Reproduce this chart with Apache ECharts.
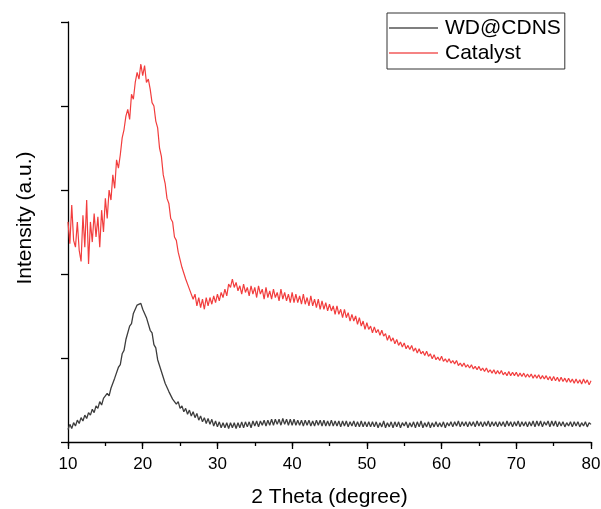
<!DOCTYPE html>
<html>
<head>
<meta charset="utf-8">
<script src="https://cdn.jsdelivr.net/npm/echarts@6/dist/echarts.min.js"></script>
<style>
html,body{margin:0;padding:0;background:#fff;}
#chart{width:601px;height:509px;}
</style>
</head>
<body>
<div id="chart"></div>
<script>
// Scan grid (2θ, degree)
const thetaStart = 10;
const thetaStep = 0.25;
const xTicks = [10, 20, 30, 40, 50, 60, 70, 80];
const seriesNames = ['WD@CDNS', 'Catalyst'];

// WD@CDNS intensity (a.u.), one value per 0.25° from 10° to 80°
const wdcdns = [
 15,21,16,23, 19,26,22,29, 25,32,28,35, 32,39,35,43, 40,48,44,52,
 50,58,55,64, 64,76,77,89, 92,105,109,122, 124,138,141,153, 154,163,164,165,
 158,159,148,146, 133,130,116,112, 98,96,84,82, 70,70,60,60, 51,53,45,48,
 40,43,36,40, 33,38,31,36, 29,34,26,31, 24,29,22,28, 21,27,19,25,
 18,24,17,23, 17,23,16,23, 17,23,16,23, 17,24,17,24, 18,24,17,25,
 19,25,18,25, 20,26,19,26, 20,27,20,27, 21,27,20,28, 21,27,20,27,
 20,27,20,26, 20,26,19,26, 20,26,19,25, 19,26,20,26, 19,26,19,25,
 19,26,19,25, 19,25,18,25, 19,25,18,24, 19,25,18,24, 18,25,18,24,
 18,24,18,24, 18,24,17,23, 18,25,17,23, 18,24,17,24, 18,24,17,23,
 19,24,17,23, 18,24,17,24, 18,25,17,23, 18,24,17,23, 18,24,18,23,
 18,24,17,23, 19,24,18,24, 19,25,18,24, 19,24,18,24, 19,24,18,25,
 19,24,18,24, 19,25,18,24, 19,24,18,24, 19,24,18,25, 19,24,18,24,
 19,25,18,24, 19,24,18,24, 19,25,18,25, 19,25,18,24, 20,25,18,25,
 19,25,18,24, 19,24,18,23, 19,24,18,24, 19,24,18,23, 19,24,18,23,
 21
];

// Catalyst intensity (a.u.), one value per 0.25° from 10° to 80°
const catalyst = [
 262,236,282,240, 232,262,228,215, 270,232,288,212, 262,238,272,244, 268,232,276,250,
 290,266,300,288, 318,302,336,326, 342,362,372,388, 396,384,414,408, 428,440,432,450,
 436,448,428,432, 420,404,400,382, 374,350,340,318, 308,290,284,266, 262,244,240,226,
 224,208,210,194, 192,182,182,170, 176,162,172,160, 170,158,172,162, 172,164,174,166,
 176,168,178,172, 182,174,188,184, 194,184,190,180, 186,176,188,178, 184,174,186,176,
 184,172,186,176, 182,170,184,172, 180,170,182,172, 178,168,182,170, 178,168,176,166,
 178,166,176,166, 174,164,176,164, 172,162,174,162, 170,160,170,158, 168,158,166,156,
 164,156,162,152, 162,152,158,148, 158,148,154,144, 152,144,150,140, 148,138,144,134,
 142,134,138,130, 137,130,134,127, 133,126,129,121, 127,120,124,117, 122,115,119,113,
 118,111,115,110, 115,108,112,106, 111,105,108,103, 108,102,105,99, 104,98,101,97,
 102,96,99,95, 99,94,97,93, 97,91,94,90, 94,89,92,88, 92,87,90,86,
 90,85,88,84, 88,83,86,82, 86,81,85,81, 85,80,83,79, 84,79,83,79,
 83,78,82,78, 82,77,81,77, 81,76,80,76, 80,75,79,75, 79,74,78,73,
 78,73,77,72, 77,72,76,71, 76,71,75,70, 75,70,74,69, 75,70,74,68,
 73
];

function toPairs(vals) {
  return vals.map((v, i) => [thetaStart + i * thetaStep, v]);
}

const chart = echarts.init(document.getElementById('chart'), null, {renderer: 'canvas'});
const font = '"Liberation Sans", Arial, sans-serif';
const axisColor = '#000';
chart.setOption({
  animation: false,
  backgroundColor: '#ffffff',
  grid: {left: 68, right: 10, top: 22, bottom: 67, containLabel: false, outerBoundsMode: 'none'},
  legend: {
    data: seriesNames.map(n => ({name: n, icon: 'rect'})),
    left: 387, top: 13,
    orient: 'vertical',
    itemWidth: 49, itemHeight: 1.5, itemGap: 1,
    padding: [3, 4, 4, 2],
    borderColor: '#333', borderWidth: 1,
    textStyle: {fontFamily: font, fontSize: 21, color: '#000', lineHeight: 24, padding: [0, 0, 0, 2]}
  },
  xAxis: [{
    type: 'value', min: 10, max: 80, interval: 10,
    name: '2 Theta (degree)', nameLocation: 'middle', nameGap: 45,
    nameTextStyle: {fontFamily: font, fontSize: 21, color: '#000'},
    axisLine: {onZero: false, lineStyle: {color: axisColor, width: 1.3}},
    axisTick: {length: 7, lineStyle: {color: axisColor, width: 1.3}},
    splitLine: {show: false},
    axisLabel: {fontFamily: font, fontSize: 17, color: '#000', margin: 14,
      formatter: v => xTicks.includes(v) ? String(v) : ''}
  }, {
    type: 'value', min: 10, max: 80, interval: 5, position: 'bottom', offset: 0,
    axisLine: {show: false},
    axisTick: {length: 4, lineStyle: {color: axisColor, width: 1.3}},
    splitLine: {show: false},
    axisLabel: {show: false}
  }],
  yAxis: {
    type: 'value', min: 0, max: 500, interval: 100,
    name: 'Intensity (a.u.)', nameLocation: 'middle', nameGap: 32,
    nameTextStyle: {fontFamily: font, fontSize: 21, color: '#000', padding: [0, 0, 0, 28]},
    axisLine: {onZero: false, lineStyle: {color: axisColor, width: 1.3}},
    axisTick: {length: 7, lineStyle: {color: axisColor, width: 1.3}},
    splitLine: {show: false},
    axisLabel: {show: false}
  },
  series: [
    {name: seriesNames[0], type: 'line', data: toPairs(wdcdns), symbol: 'none',
     lineStyle: {color: '#3d3d3d', width: 1.3}, itemStyle: {color: '#555555'}},
    {name: seriesNames[1], type: 'line', data: toPairs(catalyst), symbol: 'none',
     lineStyle: {color: '#f23d3d', width: 1.2}, itemStyle: {color: '#f25a5a'}}
  ]
});
</script>
</body>
</html>
